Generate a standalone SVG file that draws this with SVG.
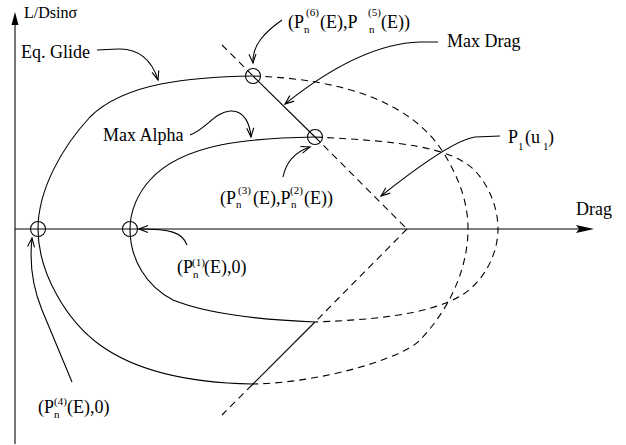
<svg xmlns="http://www.w3.org/2000/svg" width="626" height="445" viewBox="0 0 626 445">
  <style>
    .t { font-family: "Liberation Serif", "Times New Roman", serif; font-size: 18px; fill: #000; }
    .s { font-size: 11px; }
    .ln { fill: none; stroke: #000; stroke-width: 1.1; }
    .dash { fill: none; stroke: #000; stroke-width: 1.1; stroke-dasharray: 7 5; }
    .call { fill: none; stroke: #000; stroke-width: 1.1; marker-end: url(#open); }
    .ring { fill: none; stroke: #000; stroke-width: 1.1; }
  </style>
  <defs>
    <marker id="open" markerUnits="userSpaceOnUse" markerWidth="12" markerHeight="10" refX="10" refY="5" orient="auto">
      <path d="M1,1.5 L10,5 L1,8.5" fill="none" stroke="#000" stroke-width="1.1"/>
    </marker>
  </defs>
  <rect width="626" height="445" fill="#fff"/>

  <g id="axes">
    <line x1="15" y1="444" x2="15" y2="22" stroke="#777" stroke-width="2"/>
    <path d="M15,12 L18.5,25 L11.5,25 Z" fill="#000"/>
    <line x1="15" y1="229" x2="580" y2="229" stroke="#000" stroke-width="1.2"/>
    <path d="M594,229 L576,225 L579,229 L576,233 Z" fill="#000"/>
    <text class="t" x="24" y="18" style="font-size:16px">L/Dsinσ</text>
    <text class="t" x="576" y="215">Drag</text>
  </g>

  <g id="curves">
    <path class="ln" d="M253,76 C193,77 125,82 90,117 C63,146 38,189 38,229 C38,274 68,322 100,345 C140,374 197,383 252,384"/>
    <path class="ln" d="M315,137 C250,138 183,143 150,180 C138,193 130,211 130,229 C130,259 146,286 173,300 C210,315 265,320 315,322"/>
    <path class="dash" d="M253,76 C343,79 411,102 443,152 C458,176 468,201 468,229 C468,270 448,311 420,340 C403,358 322,383 252,384"/>
    <path class="dash" d="M315,137 C395,141 454,146 477,173 C490,188 498,209 498,229 C498,255 483,282 462,295 C428,316 365,320 315,322"/>
    <line class="dash" x1="222" y1="45" x2="253" y2="76"/>
    <line class="ln" x1="253" y1="76" x2="315" y2="137"/>
    <line class="dash" x1="315" y1="137" x2="407" y2="229"/>
    <line class="dash" x1="407" y1="229" x2="315" y2="322"/>
    <line class="ln" x1="315" y1="322" x2="252" y2="385"/>
    <line class="dash" x1="252" y1="385" x2="222" y2="415"/>
  </g>

  <g id="node-p65"><circle class="ring" cx="253" cy="76" r="7.5"/></g>
  <g id="node-p32"><circle class="ring" cx="315" cy="137" r="7.5"/></g>
  <g id="node-p4"><circle class="ring" cx="38" cy="229" r="7.5"/></g>
  <g id="node-p1"><circle class="ring" cx="130" cy="229" r="7.5"/></g>

  <g id="connectors">
    <path class="call" d="M97,50 L118,49 C138,48 152,60 158,80"/>
    <path class="call" d="M190,135 C205,130 215,112 230,111 C245,110 250,125 251,137"/>
    <path class="call" d="M438,42 L420,42 C385,43 340,60 285,104"/>
    <path class="call" d="M282,20 C265,32 252,45 253,63"/>
    <path class="call" d="M283,177 C286,162 295,152 310,147"/>
    <path class="call" d="M187,245 C182,232 170,229 139,229"/>
    <path class="call" d="M72,382 L42,310 C33,288 29,265 32,238"/>
    <path class="call" d="M500,136 L475,137 C455,140 420,165 381,196"/>
  </g>

  <g id="label-eqglide"><text class="t" x="21" y="58">Eq. Glide</text></g>
  <g id="label-maxalpha"><text class="t" x="103" y="141">Max Alpha</text></g>
  <g id="label-maxdrag"><text class="t" x="447" y="47">Max Drag</text></g>
  <g id="label-p65">
    <text class="t"><tspan x="288" y="28">(P</tspan><tspan class="s" x="304" y="33">n</tspan><tspan class="s" x="306" y="16">(6)</tspan><tspan x="320" y="28">(E),P</tspan><tspan class="s" x="369" y="33">n</tspan><tspan class="s" x="368" y="16">(5)</tspan><tspan x="381" y="28">(E))</tspan></text>
  </g>
  <g id="label-p32">
    <text class="t"><tspan x="220" y="204">(P</tspan><tspan class="s" x="236" y="208">n</tspan><tspan class="s" x="238" y="194">(3)</tspan><tspan x="253" y="204">(E),P</tspan><tspan class="s" x="291" y="208">n</tspan><tspan class="s" x="290" y="194">(2)</tspan><tspan x="304" y="204">(E))</tspan></text>
  </g>
  <g id="label-p1">
    <text class="t"><tspan x="177" y="273">(P</tspan><tspan class="s" x="193" y="278">n</tspan><tspan class="s" x="192" y="266">(1)</tspan><tspan x="204" y="273">(E),0)</tspan></text>
  </g>
  <g id="label-p4">
    <text class="t"><tspan x="38" y="413">(P</tspan><tspan class="s" x="54" y="418">n</tspan><tspan class="s" x="54" y="405">(4)</tspan><tspan x="67" y="413">(E),0)</tspan></text>
  </g>
  <g id="label-pl">
    <text class="t"><tspan x="508" y="143">P</tspan><tspan class="s" x="518" y="150">1</tspan><tspan x="525" y="143">(u</tspan><tspan class="s" x="543" y="150">1</tspan><tspan x="548" y="143">)</tspan></text>
  </g>
</svg>
